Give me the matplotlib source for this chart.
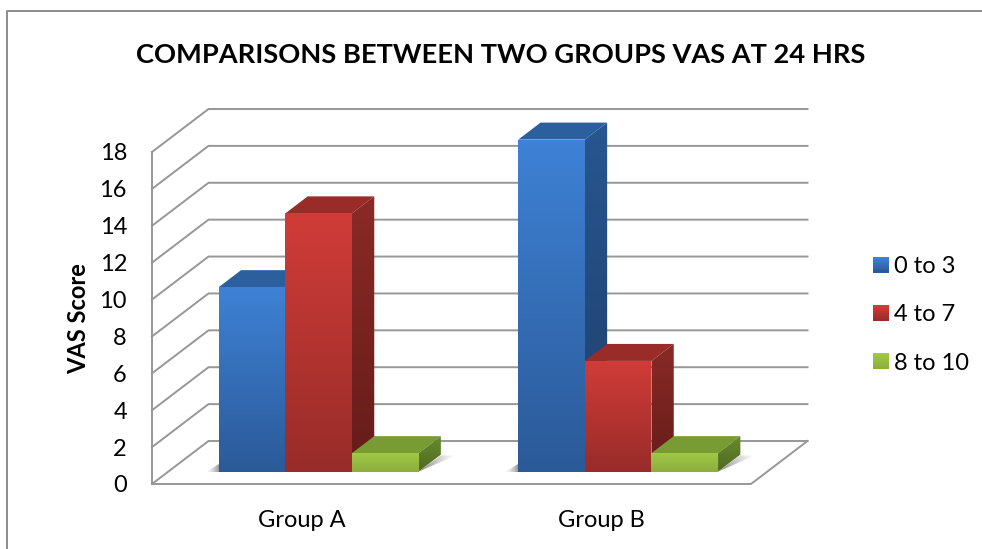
import numpy as np
from matplotlib import pyplot as plt
from matplotlib.colors import to_rgba
from matplotlib.lines import Line2D
from matplotlib.patches import Patch, Polygon, Rectangle
from matplotlib.legend_handler import HandlerPatch

plt.rcParams['font.family'] = ['Lato', 'DejaVu Sans']

groups = ['Group A', 'Group B']
series_names = ['0 to 3', '4 to 7', '8 to 10']
score_0_3 = [10, 18]
score_4_7 = [14, 6]
score_8_10 = [1, 1]
y_ticks = [0, 2, 4, 6, 8, 10, 12, 14, 16, 18]

W, H = 982, 549
fig = plt.figure(figsize=(W / 100, H / 100), dpi=100)
ax = fig.add_axes([152 / W, 1 - 484 / H, (751 - 152) / W, (484 - 152) / H])
ax.set_xlim(0, 2)
ax.set_ylim(0, 18)

# 3d look: size of the box and of the bars, in data units
px_x = 2 / (751 - 152)
px_y = 18 / (484 - 152)
wall_dx, wall_dy = 56.5 * px_x, 43 * px_y
bar_dx, bar_dy = 22.3 * px_x, 17 * px_y
shift_x, base_y = 16.9 * px_x, 12.4 * px_y
bar_w = 66.6 * px_x

colors = [
    dict(front=('#3e81d5', '#2b5a98'), side=('#285690', '#1f3f6c'), top='#2c5f9d'),
    dict(front=('#d03c38', '#982c29'), side=('#8a2a26', '#651c1a'), top='#992c28'),
    dict(front=('#a0c946', '#8cae3c'), side=('#688a2d', '#4e6a21'), top='#789b33'),
]


def gradient(pts, start, end, z, horizontal=False):
    # polygon filled with a linear gradient, image clipped to the polygon
    # start is the top colour (or the left one if horizontal)
    pts = np.array(pts)
    a, b = np.array(to_rgba(start)), np.array(to_rgba(end))
    t = np.linspace(0, 1, 64)[:, None]
    img = a + (b - a) * t
    img = img[None, :, :] if horizontal else img[:, None, :]
    im = ax.imshow(img, aspect='auto', zorder=z, interpolation='bilinear',
                   extent=(pts[:, 0].min(), pts[:, 0].max(), pts[:, 1].min(), pts[:, 1].max()))
    im.set_clip_box(fig.bbox)
    im.set_clip_path(Polygon(pts, transform=ax.transData))


# grid on the walls
grid_color = '#979797'
for t in y_ticks:
    ax.plot([0, wall_dx, 2 + wall_dx], [t, t + wall_dy, t + wall_dy], color=grid_color,
            lw=1.4, clip_on=False, zorder=1, solid_joinstyle='miter')
ax.plot([0, 0], [0, 18], color=grid_color, lw=1.4, clip_on=False, zorder=1)
ax.plot([0, 2, 2 + wall_dx], [0, 0, wall_dy], color=grid_color, lw=1.4, clip_on=False, zorder=1)

# bars
all_series = [score_0_3, score_4_7, score_8_10]
for g in range(len(groups)):
    left = g + 0.5 - 1.5 * bar_w + shift_x
    right = left + 3 * bar_w
    # soft shadows on the floor
    gradient([(right, base_y), (right + bar_dx, base_y + bar_dy - 0.05), (right + 37 * px_x, base_y + bar_dy - 0.05)],
             (0.4, 0.4, 0.4, 0.85), (0.65, 0.65, 0.65, 0.0), 2, horizontal=True)
    gradient([(left - 13 * px_x, base_y), (left, base_y), (left, base_y + 8 * px_y)],
             (0.75, 0.75, 0.75, 0.0), (0.5, 0.5, 0.5, 0.8), 2, horizontal=True)
    for s, values in enumerate(all_series):
        x0 = left + s * bar_w
        x1 = x0 + bar_w
        v = values[g]
        top = base_y + v
        z = 3 + s * 3
        c = colors[s]
        ax.bar(x0, v, bar_w, bottom=base_y, align='edge', color=c['front'][0], zorder=z)
        gradient([(x0, base_y), (x1, base_y), (x1, top), (x0, top)], c['front'][0], c['front'][1], z + 0.5)
        ax.add_patch(Polygon([(x0, top), (x1, top), (x1 + bar_dx, top + bar_dy), (x0 + bar_dx, top + bar_dy)],
                             color=c['top'], lw=0, zorder=z, clip_on=False))
        gradient([(x1, base_y), (x1 + bar_dx, base_y + bar_dy), (x1 + bar_dx, top + bar_dy), (x1, top)],
                 c['side'][0], c['side'][1], z)

ax.set_xlim(0, 2)
ax.set_ylim(0, 18)
for sp in ax.spines.values():
    sp.set_visible(False)
ax.patch.set_visible(False)
ax.set_yticks(y_ticks)
ax.set_xticks([0.5, 1.5], groups)
ax.tick_params(axis='y', length=0, pad=18, labelsize=17, labelcolor='black')
ax.tick_params(axis='x', length=0, pad=18.5, labelsize=17, labelcolor='black')
for lab in ax.get_yticklabels():
    lab.set_verticalalignment('center_baseline')

fig.text(501 / W, 1 - 55 / H, 'COMPARISONS BETWEEN TWO GROUPS VAS AT 24 HRS', fontsize=19.6,
         fontweight='bold', ha='center', va='center')
fig.text(78.5 / W, 1 - 319 / H, 'VAS Score', fontsize=17, fontweight='bold', rotation=90,
         ha='center', va='center')


class GradientHandler(HandlerPatch):
    def create_artists(self, legend, orig, xd, yd, width, height, fontsize, trans):
        start, end = orig.get_facecolor(), orig.get_edgecolor()
        n = 8
        out = []
        for i in range(n):
            col = np.array(start) + (np.array(end) - np.array(start)) * i / (n - 1)
            out.append(Rectangle((-xd, -yd + height * (1 - (i + 1) / n)), width, height / n + 0.3,
                                 facecolor=col, lw=0, transform=trans))
        return out


handles = [Patch(facecolor=c['front'][0], edgecolor=c['front'][1], label=n)
           for c, n in zip(colors, series_names)]
ax.legend(handles=handles, handler_map={Patch: GradientHandler()}, frameon=False,
          loc='center left', bbox_to_anchor=(873 / W, 1 - 315 / H), bbox_transform=fig.transFigure,
          fontsize=17, borderpad=0, borderaxespad=0, handlelength=0.68, handleheight=0.64,
          handletextpad=0.21, labelspacing=1.15)

# chart frame, left and top sides only
fig.add_artist(Line2D([6.5 / W, 6.5 / W, 1], [0, 1 - 10.5 / H, 1 - 10.5 / H], color='#8c8c8c', lw=1.4))

fig.savefig('out.png', dpi=100)
